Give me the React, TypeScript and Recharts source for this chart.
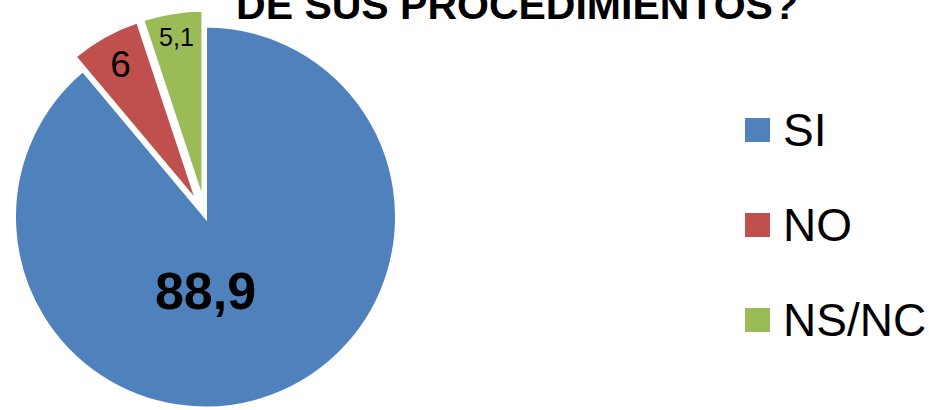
import React from "react";
import { PieChart, Pie, Cell, Legend } from "recharts";

const categories = ["SI", "NO", "NS/NC"];
const values = [88.9, 6, 5.1];
const labels = ["88,9", "6", "5,1"];
const colors = ["#4F81BD", "#C0504D", "#9BBB59"];
const exploded = [false, true, true];

const data = categories.map((name, i) => ({ name, value: values[i] }));

const W = 929;
const H = 410;
const CX = 205.5;
const CY = 217;
const R = 191;
const EXPLODE = 16;
const FONT = "'Liberation Sans', Arial, sans-serif";

const total = values.reduce((a, b) => a + b, 0);

// offset of a slice along its mid angle (clockwise from 12 o'clock)
function sliceOffset(i: number) {
  if (!exploded[i]) return { dx: 0, dy: 0 };
  const before = values.slice(0, i).reduce((a, b) => a + b, 0);
  const mid = ((before + values[i] / 2) / total) * 2 * Math.PI;
  return { dx: Math.sin(mid) * EXPLODE, dy: -Math.cos(mid) * EXPLODE };
}

const labelStyle = [
  { size: 52, weight: "bold", frac: 0.385 },
  { size: 37, weight: "normal", frac: 0.83 },
  { size: 25, weight: "normal", frac: 0.87 },
];

function makeLabel(target: number) {
  return (props: any) => {
    const { index, cx, cy, midAngle, outerRadius } = props;
    if (index !== target) return null;
    const st = labelStyle[index];
    let x: number;
    let y: number;
    if (index === 0) {
      x = cx;
      y = cy + outerRadius * st.frac;
    } else {
      const rad = (midAngle * Math.PI) / 180;
      x = cx + Math.cos(rad) * outerRadius * st.frac;
      y = cy - Math.sin(rad) * outerRadius * st.frac;
    }
    return (
      <text
        x={x}
        y={y}
        textAnchor="middle"
        dominantBaseline="central"
        fill="#000"
        fontFamily={FONT}
        fontSize={st.size}
        fontWeight={st.weight}
      >
        {labels[index]}
      </text>
    );
  };
}

const renderLegend = () => (
  <div style={{ fontFamily: FONT }}>
    {categories.map((c, i) => (
      <div
        key={c}
        style={{ display: "flex", alignItems: "flex-start", height: 95 }}
      >
        <div style={{ width: 25, height: 24, background: colors[i] }} />
        <span
          style={{
            marginLeft: 13,
            fontSize: 46,
            lineHeight: "24px",
            color: "#000",
            whiteSpace: "nowrap",
          }}
        >
          {c}
        </span>
      </div>
    ))}
  </div>
);

export default function App() {
  return (
    <div
      style={{
        position: "absolute",
        left: 0,
        top: 0,
        width: W,
        height: H,
        background: "#fff",
        overflow: "hidden",
      }}
    >
      <div
        style={{
          position: "absolute",
          left: 0,
          width: 1034,
          top: -18,
          textAlign: "center",
          fontFamily: FONT,
          fontWeight: "bold",
          fontSize: 41,
          lineHeight: "46px",
          color: "#000",
          whiteSpace: "nowrap",
        }}
      >
        DE SUS PROCEDIMIENTOS?
      </div>
      <PieChart width={W} height={H} margin={{ top: 0, right: 0, bottom: 0, left: 0 }}>
        {categories.map((c, k) => {
          const { dx, dy } = sliceOffset(k);
          return (
            <Pie
              key={c}
              data={data}
              dataKey="value"
              nameKey="name"
              cx={CX + dx}
              cy={CY + dy}
              outerRadius={R}
              startAngle={90}
              endAngle={-270}
              isAnimationActive={false}
              labelLine={false}
              label={makeLabel(k)}
              legendType={k === 0 ? "square" : "none"}
            >
              {data.map((d, i) => (
                <Cell
                  key={d.name}
                  fill={i === k ? colors[i] : "none"}
                  stroke={i === k ? "#fff" : "none"}
                  strokeWidth={3}
                />
              ))}
            </Pie>
          );
        })}
        <Legend
          content={renderLegend}
          wrapperStyle={{ position: "absolute", left: 745, top: 118, width: 184 }}
        />
      </PieChart>
    </div>
  );
}
